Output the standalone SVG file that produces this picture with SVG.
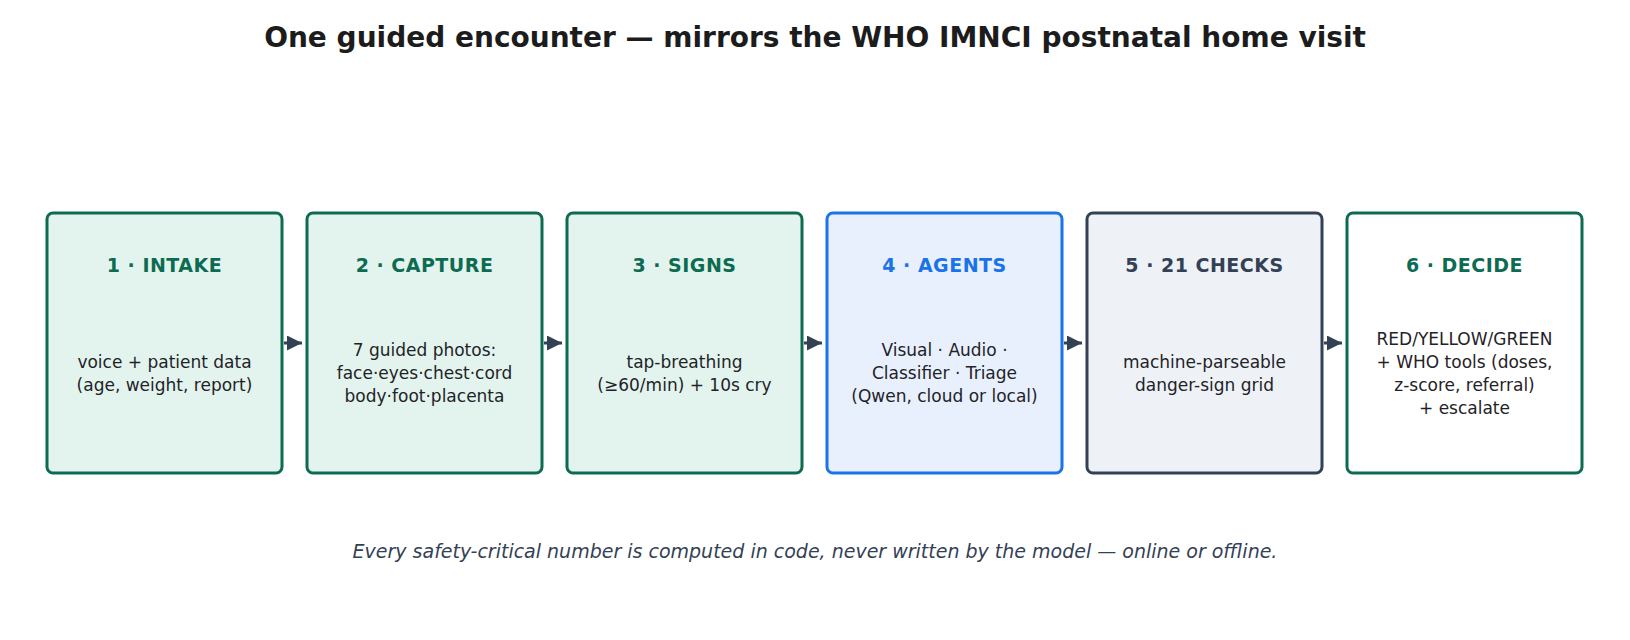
<svg xmlns="http://www.w3.org/2000/svg" width="1630" height="640" viewBox="0 0 1630 640">
<style>
.title{font-family:"DejaVu Sans",sans-serif;font-weight:bold;font-size:28px;fill:#1c1c1c;text-anchor:middle}
.h{font-family:"DejaVu Sans",sans-serif;font-weight:bold;font-size:19px;text-anchor:middle;letter-spacing:0.5px}
.b{font-family:"DejaVu Sans",sans-serif;font-size:17px;fill:#1f2328;text-anchor:middle}
.foot{font-family:"DejaVu Sans",sans-serif;font-style:italic;font-size:19px;fill:#334155;text-anchor:middle}
.box{stroke-width:3}
.g{fill:#e3f4ee;stroke:#0d6b52}
.bl{fill:#e8f0fd;stroke:#1a73e8}
.dk{fill:#eef2f7;stroke:#334155}
.w{fill:#ffffff;stroke:#0d6b52}
.conn{stroke:#334155;stroke-width:3;fill:none}
</style>
<defs>
<marker id="ah" viewBox="0 0 10 10" refX="10" refY="5" markerWidth="5" markerHeight="5" orient="auto" markerUnits="strokeWidth">
<path d="M0,0 L10,5 L0,10 z" fill="#334155"/>
</marker>
</defs>
<rect width="1630" height="640" fill="#ffffff"/>
<text class="title" x="815" y="47">One guided encounter — mirrors the WHO IMNCI postnatal home visit</text>

<g id="connectors">
<line class="conn" x1="284" y1="343" x2="302" y2="343" marker-end="url(#ah)"/>
<line class="conn" x1="544" y1="343" x2="562" y2="343" marker-end="url(#ah)"/>
<line class="conn" x1="804" y1="343" x2="822" y2="343" marker-end="url(#ah)"/>
<line class="conn" x1="1064" y1="343" x2="1082" y2="343" marker-end="url(#ah)"/>
<line class="conn" x1="1324" y1="343" x2="1342" y2="343" marker-end="url(#ah)"/>
</g>

<g id="node1">
<rect class="box g" x="47" y="213" width="235" height="260" rx="6"/>
<text class="h" x="164.5" y="272" fill="#0d6b52">1 · INTAKE</text>
<text class="b" x="164.5" y="368">voice + patient data</text>
<text class="b" x="164.5" y="391">(age, weight, report)</text>
</g>
<g id="node2">
<rect class="box g" x="307" y="213" width="235" height="260" rx="6"/>
<text class="h" x="424.5" y="272" fill="#0d6b52">2 · CAPTURE</text>
<text class="b" x="424.5" y="356">7 guided photos:</text>
<text class="b" x="424.5" y="379">face·eyes·chest·cord</text>
<text class="b" x="424.5" y="402">body·foot·placenta</text>
</g>
<g id="node3">
<rect class="box g" x="567" y="213" width="235" height="260" rx="6"/>
<text class="h" x="684.5" y="272" fill="#0d6b52">3 · SIGNS</text>
<text class="b" x="684.5" y="368">tap-breathing</text>
<text class="b" x="684.5" y="391">(≥60/min) + 10s cry</text>
</g>
<g id="node4">
<rect class="box bl" x="827" y="213" width="235" height="260" rx="6"/>
<text class="h" x="944.5" y="272" fill="#1a73e8">4 · AGENTS</text>
<text class="b" x="944.5" y="356">Visual · Audio ·</text>
<text class="b" x="944.5" y="379">Classifier · Triage</text>
<text class="b" x="944.5" y="402">(Qwen, cloud or local)</text>
</g>
<g id="node5">
<rect class="box dk" x="1087" y="213" width="235" height="260" rx="6"/>
<text class="h" x="1204.5" y="272" fill="#334155">5 · 21 CHECKS</text>
<text class="b" x="1204.5" y="368">machine-parseable</text>
<text class="b" x="1204.5" y="391">danger-sign grid</text>
</g>
<g id="node6">
<rect class="box w" x="1347" y="213" width="235" height="260" rx="6"/>
<text class="h" x="1464.5" y="272" fill="#0d6b52">6 · DECIDE</text>
<text class="b" x="1464.5" y="345">RED/YELLOW/GREEN</text>
<text class="b" x="1464.5" y="368">+ WHO tools (doses,</text>
<text class="b" x="1464.5" y="391">z-score, referral)</text>
<text class="b" x="1464.5" y="414">+ escalate</text>
</g>

<text class="foot" x="815" y="558">Every safety-critical number is computed in code, never written by the model — online or offline.</text>
</svg>
